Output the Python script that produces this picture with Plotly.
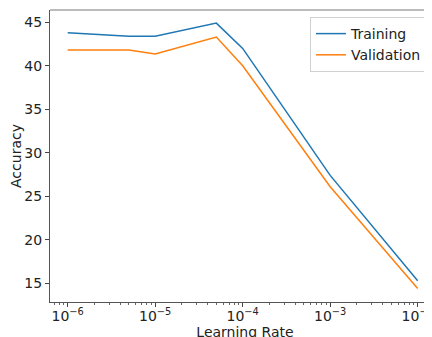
import plotly.graph_objects as go

learning_rates = [1e-6, 5e-6, 1e-5, 5e-5, 1e-4, 1e-3, 1e-2]
training_acc = [43.8, 43.4, 43.4, 44.9, 42.0, 27.4, 15.3]
validation_acc = [41.8, 41.8, 41.35, 43.3, 40.0, 26.1, 14.4]

x_tick_vals = [1e-6, 1e-5, 1e-4, 1e-3, 1e-2]
x_tick_text = ["10<sup>−6</sup>", "10<sup>−5</sup>", "10<sup>−4</sup>", "10<sup>−3</sup>", "10<sup>−2</sup>"]
y_tick_vals = [15, 20, 25, 30, 35, 40, 45]

minor_vals = [k * 10.0 ** e for e in range(-7, -1) for k in range(2, 10)]

font = dict(family="DejaVu Sans", size=14, color="#222")

fig = go.Figure()
fig.add_trace(go.Scatter(x=learning_rates, y=training_acc, mode="lines", name="Training",
                         line=dict(color="#1f77b4", width=1.5)))
fig.add_trace(go.Scatter(x=learning_rates, y=validation_acc, mode="lines", name="Validation",
                         line=dict(color="#ff7f0e", width=1.5)))

fig.update_layout(
    width=432, height=337,
    margin=dict(l=42, r=0, t=2, b=43),
    paper_bgcolor="white", plot_bgcolor="white",
    font=font,
    showlegend=True,
    legend=dict(x=0.9667, y=0.976, xanchor="right", yanchor="top",
                bgcolor="white", bordercolor="#d0d0d0", borderwidth=1,
                itemwidth=30,
                font=dict(family="DejaVu Sans", size=14, color="#222")),
    xaxis=dict(type="log", range=[-6.202, -1.745],
               tickvals=x_tick_vals, ticktext=x_tick_text,
               ticks="outside", ticklen=4, tickcolor="#444", tickwidth=1,
               ticklabelstandoff=-3,
               showgrid=False, zeroline=False,
               showline=True, linecolor="#555", linewidth=1,
               minor=dict(tickvals=minor_vals, ticks="outside", ticklen=2, tickcolor="#666", showgrid=False),
               title=dict(text="Learning Rate", standoff=0, font=dict(family="DejaVu Sans", size=14)),
               automargin=False),
    yaxis=dict(range=[12.85, 46.41], tickvals=y_tick_vals,
               ticks="outside", ticklen=4, tickcolor="#444", tickwidth=1,
               showgrid=False, zeroline=False,
               showline=True, linecolor="#555", linewidth=1,
               title=dict(text="Accuracy", standoff=0, font=dict(family="DejaVu Sans", size=14)),
               automargin=False),
    shapes=[dict(type="line", xref="paper", yref="paper", x0=0, x1=1, y0=1, y1=1,
                 line=dict(color="#bbbbbb", width=2))],
)

fig.write_html("out.html")
